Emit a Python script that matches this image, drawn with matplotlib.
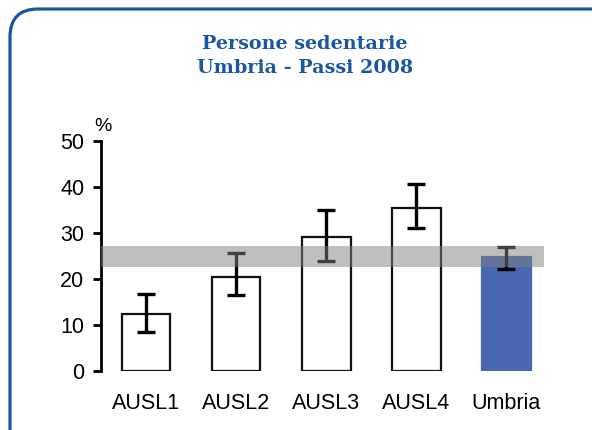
import matplotlib.pyplot as plt
from matplotlib.patches import FancyBboxPatch

categories = ['AUSL1', 'AUSL2', 'AUSL3', 'AUSL4', 'Umbria']
values = [12.4, 20.5, 29.2, 35.4, 24.8]
ci_low = [8.5, 16.6, 24.0, 31.0, 22.2]
ci_high = [16.7, 25.7, 35.0, 40.6, 27.0]
band_low = 22.5
band_high = 27.2
title = 'Persone sedentarie\nUmbria - Passi 2008'

blue = '#1b56a0'
bar_blue = '#4a68b2'

fig = plt.figure(figsize=(5.92, 4.3), dpi=100)

# rounded frame drawn in pixel coordinates
bg = fig.add_axes([0, 0, 1, 1])
bg.set_xlim(0, 592)
bg.set_ylim(430, 0)
bg.axis('off')
frame = FancyBboxPatch((10, 9), 610, 450, boxstyle='round,pad=0,rounding_size=28',
                       fill=False, edgecolor=blue, linewidth=2.3)
bg.add_patch(frame)

fig.text(0.5155, 0.87, title, ha='center', va='center', color=blue,
         fontsize=13.8, fontweight='bold', family='DejaVu Serif', linespacing=1.4)

ax = fig.add_axes([0.1706, 0.1372, 0.761, 0.535])
x = range(len(categories))
face = ['white'] * (len(categories) - 1) + [bar_blue]
edge = ['#111111'] * (len(categories) - 1) + [bar_blue]
ax.bar(x, values, width=0.54, color=face, edgecolor=edge, linewidth=1.6, zorder=2)
yerr = [[v - lo for v, lo in zip(values, ci_low)], [hi - v for v, hi in zip(values, ci_high)]]
ax.errorbar(x, values, yerr=yerr, fmt='none', ecolor='black', elinewidth=2.4,
            capsize=6.5, capthick=2.4, zorder=3)
ax.fill_between([-0.5, 4.42], band_low, band_high, color='#808080', alpha=0.5,
                linewidth=0, zorder=4)

ax.set_xlim(-0.5, 4.5)
ax.set_ylim(0, 50)
ax.set_yticks([0, 10, 20, 30, 40, 50])
ax.set_xticks(list(x))
ax.set_xticklabels(categories)
for s in ['top', 'right', 'bottom']:
    ax.spines[s].set_visible(False)
ax.spines['left'].set_linewidth(2)
ax.tick_params(axis='y', length=6, width=2, labelsize=15.5, pad=6)
ax.tick_params(axis='x', length=0, labelsize=15.5, pad=16)
for lab in ax.get_xticklabels() + ax.get_yticklabels():
    lab.set_family('Liberation Sans')
ax.text(0.005, 1.025, '%', transform=ax.transAxes, ha='center', va='bottom',
        fontsize=14, family='Liberation Sans')

fig.savefig('out.png', dpi=100)
